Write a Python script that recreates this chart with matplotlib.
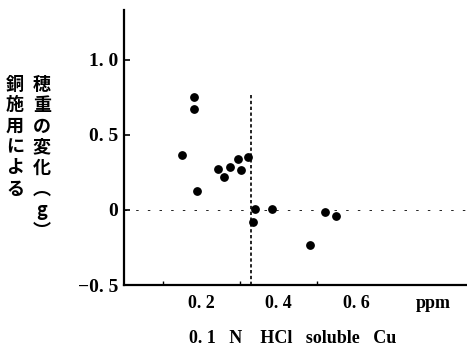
import numpy as np
import matplotlib.pyplot as plt

# data
cu_ppm = [0.151, 0.181, 0.181, 0.189, 0.244, 0.259, 0.273, 0.295, 0.302, 0.321,
          0.338, 0.333, 0.384, 0.481, 0.521, 0.549]
ear_change = [0.365, 0.749, 0.669, 0.127, 0.273, 0.222, 0.287, 0.340, 0.267, 0.349,
              0.005, -0.080, 0.005, -0.235, -0.011, -0.040]
critical_cu = 0.328
critical_top = 0.78

x_ticks = [0.2, 0.4, 0.6, 0.8]
x_ticklabels = ['0. 2', '0. 4', '0. 6', 'ppm']
y_ticks = [1.0, 0.5, 0, -0.5]
y_ticklabels = ['1. 0', '0. 5', '0', '−0. 5']
ylabel_right = ['穂', '重', 'の', '変', '化', '︵', 'g', '︶']
ylabel_left = ['銅', '施', '用', 'に', 'よ', 'る']

serif = ['Liberation Serif', 'DejaVu Serif']
cjk = ['Noto Sans CJK JP', 'DejaVu Sans']

fig = plt.figure(figsize=(4.67, 3.59), dpi=100)
ax = fig.add_axes([0.2655, 0.206, 0.732, 0.766])

ax.scatter(cu_ppm, ear_change, s=28, color='black', zorder=3)

# reference lines
ax.axhline(0, color='black', lw=0.6, linestyle=(0, (3, 11)))
ax.plot([critical_cu, critical_cu], [-0.5, critical_top], color='black',
        lw=1.2, linestyle=(0, (2, 1.5)))

ax.set_xlim(0, 0.884)
ax.set_ylim(-0.5, 1.33)

for s in ['top', 'right']:
    ax.spines[s].set_visible(False)
for s in ['left', 'bottom']:
    ax.spines[s].set_linewidth(1.6)

ax.set_xticks(x_ticks)
ax.set_xticklabels(x_ticklabels, family=serif, fontsize=13, fontweight='bold')
ax.set_xticks(np.arange(0.1, 0.65, 0.1), minor=True)
ax.tick_params(axis='x', which='major', length=0, pad=7)
ax.tick_params(axis='x', which='minor', direction='in', length=3, width=1)

ax.set_yticks(y_ticks)
ax.set_yticklabels(y_ticklabels, family=serif, fontsize=14, fontweight='bold')
ax.tick_params(axis='y', direction='in', length=4, width=1.2, pad=4)

fig.text(0.627, 0.058, '0. 1   N    HCl   soluble   Cu', ha='center', va='center',
         family=serif, fontsize=13, fontweight='bold')

# vertical Japanese axis label, two columns
step = 21 / 359
for i, ch in enumerate(ylabel_right):
    fig.text(42 / 467, 1 - (84 / 359) - i * step, ch, ha='center', va='center',
             family=cjk, fontsize=13, fontweight='bold')
for i, ch in enumerate(ylabel_left):
    fig.text(15 / 467, 1 - (84 / 359) - i * step, ch, ha='center', va='center',
             family=cjk, fontsize=13, fontweight='bold')

fig.savefig('out.png', dpi=100)
